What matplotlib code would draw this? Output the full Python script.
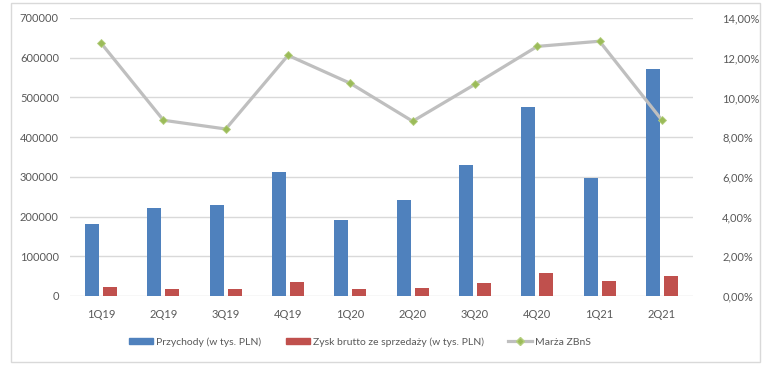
import matplotlib.pyplot as plt
import matplotlib.ticker as mticker
from matplotlib.lines import Line2D
from matplotlib.patches import Patch, Rectangle
import numpy as np

quarters = ['1Q19', '2Q19', '3Q19', '4Q19', '1Q20', '2Q20', '3Q20', '4Q20', '1Q21', '2Q21']
przychody = [181300, 221600, 229100, 312200, 191400, 241700, 329900, 475900, 297100, 571600]
zysk = [22700, 17600, 17600, 35300, 17600, 21000, 32700, 57900, 37800, 50400]
marza = [12.73, 8.85, 8.41, 12.12, 10.71, 8.80, 10.66, 12.57, 12.83, 8.86]

plt.rcParams['font.family'] = ['Lato', 'DejaVu Sans']
txt = '#595959'
grid = '#D9D9D9'

fig = plt.figure(figsize=(7.64, 3.70), dpi=100)
fig.patches.append(Rectangle((11 / 764, 1 - 362 / 370), 749 / 764, 359 / 370,
                             transform=fig.transFigure, fill=False,
                             edgecolor=grid, linewidth=1))
ax = fig.add_axes([70 / 764, 1 - 296 / 370, 623 / 764, 278 / 370])
ax2 = ax.twinx()

x = np.arange(len(quarters))
w = 0.225
ax.bar(x - 0.145, przychody, w, color='#4F81BD', zorder=2)
ax.bar(x + 0.145, zysk, w, color='#C0504D', zorder=2)
ax2.plot(x, marza, color='#BFBFBF', linewidth=2.3, marker='D', markersize=4,
         markerfacecolor='#9BBB59', markeredgecolor='#B5CF7F', markeredgewidth=0.6)

ax.set_xlim(-0.5, len(quarters) - 0.5)
ax.set_ylim(0, 700000)
ax.set_yticks(range(0, 700001, 100000))
ax2.set_ylim(0, 14)
ax2.set_yticks(range(0, 15, 2))
ax2.yaxis.set_major_formatter(mticker.FuncFormatter(lambda v, p: f'{v:.2f}%'.replace('.', ',')))

ax.set_xticks(x)
ax.set_xticklabels(quarters)
ax.grid(axis='y', color=grid, linewidth=1, zorder=0)
ax.set_axisbelow(True)
for a in (ax, ax2):
    for s in a.spines.values():
        s.set_visible(False)
    a.tick_params(length=0, labelsize=8, colors=txt)
ax.tick_params(axis='x', pad=9)
ax.tick_params(axis='y', pad=8)
ax2.tick_params(axis='y', pad=21)

handles = [Patch(color='#4F81BD'), Patch(color='#C0504D'),
           Line2D([], [], color='#BFBFBF', linewidth=2.3, marker='D', markersize=4,
                  markerfacecolor='#9BBB59', markeredgecolor='#B5CF7F')]
labels = ['Przychody (w tys. PLN)', 'Zysk brutto ze sprzedaży (w tys. PLN)', 'Marża ZBnS']
fig.legend(handles, labels, loc='center', bbox_to_anchor=(360 / 764, 1 - 342 / 370),
           ncol=3, frameon=False, fontsize=7.5, labelcolor=txt, handlelength=2.3,
           handleheight=0.6, handletextpad=0.3, columnspacing=2.3)

fig.savefig('out.png', dpi=100)
